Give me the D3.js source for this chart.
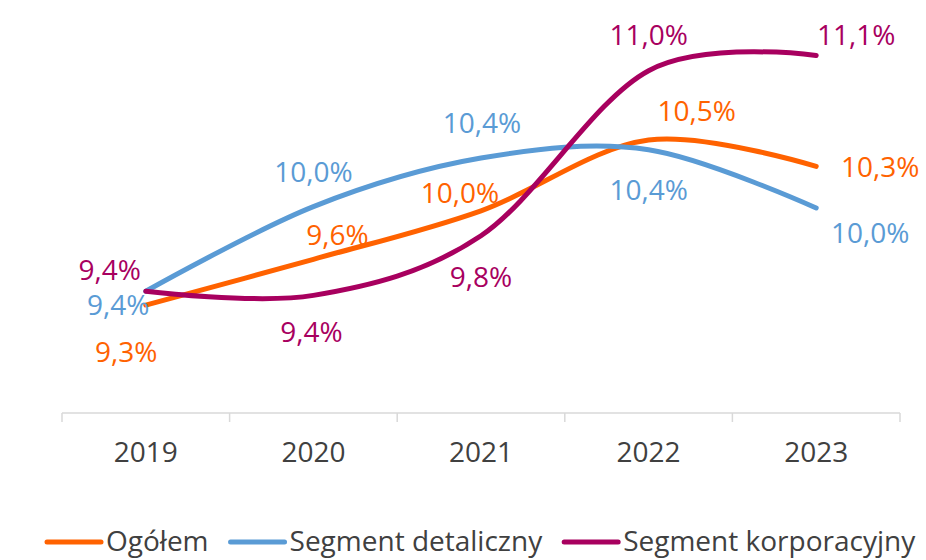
<!DOCTYPE html>
<html>
<head>
<meta charset="utf-8">
<script src="https://cdn.jsdelivr.net/npm/d3@7"></script>
<style>
  html, body { margin: 0; padding: 0; background: #fff; }
  svg { display: block; font-family: "Open Sans", "Noto Sans", sans-serif; }
</style>
</head>
<body>
<svg id="chart" width="926" height="560"></svg>
<script>
// ---- data ----
const categories = ["2019", "2020", "2021", "2022", "2023"];
const seriesNames = ["Ogółem", "Segment detaliczny", "Segment korporacyjny"];
const ogolem = [9.3, 9.63, 9.98, 10.49, 10.3];
const detaliczny = [9.4, 10.01, 10.36, 10.42, 10.0];
const korporacyjny = [9.4, 9.37, 9.8, 10.99, 11.1];

// ---- styles / layout ----
const colors = ["#FF6200", "#5A9BD5", "#A8005F"];
const textColor = "#404040";
const labelOffsets = [
  [[-19.5, 57], [24, -14], [-21, -8], [48, -19], [64, 11]],
  [[-27.5, 24], [0, -25], [1, -25], [0, 50], [54, 35]],
  [[-36, -11], [-2, 47], [0, 51], [0, -26], [40, -10]]
];

const svg = d3.select("#chart");
const x = d3.scaleBand().domain(categories).range([62, 900]);
const y = d3.scaleLinear().domain([8.5, 11.5]).range([416, 0]);
const cx = c => x(c) + x.bandwidth() / 2;
const axisY = 413;

// axis
const axis = d3.axisBottom(x).tickSize(0).tickPadding(0);
const gAxis = svg.append("g").attr("transform", `translate(0,${axisY})`).call(axis);
gAxis.select(".domain").remove();
gAxis.selectAll(".tick text")
  .attr("y", 48.7).attr("dy", null)
  .attr("font-size", 28).attr("fill", textColor)
  .attr("font-family", "Open Sans, Noto Sans, sans-serif");
svg.append("line").attr("x1", 62).attr("x2", 900).attr("y1", axisY).attr("y2", axisY)
  .attr("stroke", "#d9d9d9").attr("stroke-width", 1.5);
const bounds = categories.map(c => x(c)).concat([x(categories[categories.length - 1]) + x.bandwidth()]);
svg.selectAll("line.tk").data(bounds).enter().append("line").attr("class", "tk")
  .attr("x1", d => d).attr("x2", d => d).attr("y1", axisY).attr("y2", axisY + 9)
  .attr("stroke", "#d9d9d9").attr("stroke-width", 1.5);

// lines
const allSeries = [ogolem, detaliczny, korporacyjny];
const line = d3.line()
  .x((d, i) => cx(categories[i]))
  .y(d => y(d))
  .curve(d3.curveCardinal.tension(0));

allSeries.forEach((vals, s) => {
  svg.append("path").datum(vals)
    .attr("d", line)
    .attr("fill", "none")
    .attr("stroke", colors[s])
    .attr("stroke-width", 5)
    .attr("stroke-linecap", "round")
    .attr("stroke-linejoin", "round");
});

// labels
const fmt = v => v.toFixed(1).replace(".", ",") + "%";
allSeries.forEach((vals, s) => {
  svg.append("g").selectAll("text").data(vals).enter().append("text")
    .attr("x", (d, i) => cx(categories[i]) + labelOffsets[s][i][0])
    .attr("y", (d, i) => y(d) + labelOffsets[s][i][1])
    .attr("text-anchor", "middle")
    .attr("font-size", 28)
    .attr("fill", colors[s])
    .text(d => fmt(d));
});

// legend
let lx = 47;
const ly = 542;
seriesNames.forEach((name, s) => {
  svg.append("line").attr("x1", lx).attr("x2", lx + 54).attr("y1", ly).attr("y2", ly)
    .attr("stroke", colors[s]).attr("stroke-width", 5).attr("stroke-linecap", "round");
  const t = svg.append("text").attr("x", lx + 59).attr("y", ly + 9)
    .attr("font-size", 28).attr("fill", textColor).text(name);
  lx = lx + 59 + t.node().getComputedTextLength() + 22;
});
</script>
</body>
</html>
